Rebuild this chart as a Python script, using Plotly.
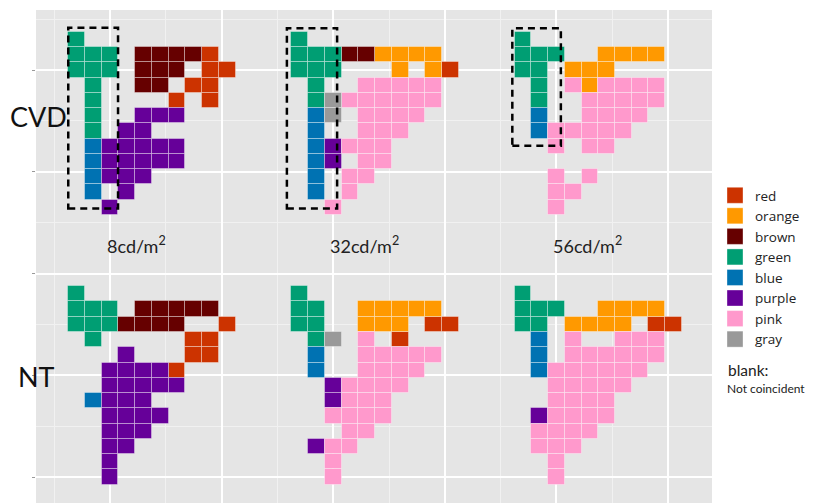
import plotly.graph_objects as go

# ---------------- data ----------------
COLOR_NAMES = ["red", "orange", "brown", "green", "blue", "purple", "pink", "gray"]
COLOR_CODES = ["R", "O", "W", "G", "B", "P", "K", "Y"]
COLOR_HEX = ["#CC3300", "#FF9900", "#660000", "#009E73", "#0072B2", "#660099", "#FF99CC", "#999999"]

GROUP_LABELS = ["CVD", "NT"]
LUMINANCE_LABELS = ["8cd/m<sup>2</sup>", "32cd/m<sup>2</sup>", "56cd/m<sup>2</sup>"]

# grid of coincident colour categories ('.' = blank / not coincident)
CVD_8 = [
    "G.........",
    "GGG.WWWWR.",
    "GGG.WWW.RR",
    ".G..WW.RR.",
    ".G....R.R.",
    ".G..PPP...",
    ".G.PP.....",
    ".BPPPPP...",
    ".BPPPPP...",
    ".BPPP.....",
    ".B.P......",
    "..P.......",
]
CVD_32 = [
    "G.........",
    "GGGWWOOOO.",
    "GGG...O.OR",
    ".G..KKKKK.",
    ".GYKKKKKK.",
    ".BY.KKKK..",
    ".B..KKK...",
    ".BPKKK....",
    ".BP.KK....",
    ".B.KK.....",
    ".B.K......",
    "..K.......",
]
CVD_56 = [
    "G.........",
    "GGG..OOOO.",
    "GG.OOO....",
    ".G.KOKKKK.",
    ".G..KKKKK.",
    ".B..KKKK..",
    ".BKKKKK...",
    "..K.KK....",
    "..........",
    "..K.K.....",
    "..KK......",
    "..K.......",
]
NT_8 = [
    "G.........",
    "GGG.WWWWW.",
    "GGGWWWW..R",
    ".G.....RR.",
    "...P...RR.",
    "..PPPPR...",
    "..PPPPP...",
    ".BPPP.....",
    "..PPPP....",
    "..PPP.....",
    "..PP......",
    "..P.......",
    "..P.......",
]
NT_32 = [
    "G.........",
    "GG..OOOOO.",
    "GG..OOO.RR",
    ".GY.K.R...",
    ".B..KKKKK.",
    ".B..KKKK..",
    "..PKKKK...",
    "..PKKK....",
    "..KKKK....",
    "...KK.....",
    ".PKK......",
    "..K.......",
    "..K.......",
]
NT_56 = [
    "G.........",
    "GGG..OOOO.",
    "GG.OOOO.RR",
    ".B.K..KKK.",
    ".B.KKKKKK.",
    ".BKKKKKK..",
    "..KKKKK...",
    "..KKKK....",
    ".PKKKK....",
    ".KKKK.....",
    ".KKK......",
    "..K.......",
    "..K.......",
]
PANELS = [[CVD_8, CVD_32, CVD_56], [NT_8, NT_32, NT_56]]

# ---------------- layout constants ----------------
CELL = 0.15
PANEL_DX = 2.0
PANEL_DY = -2.5
FONT = "Lato"
OFF = 8  # default page body margin

# collect cells per colour
cells = {code: {"x": [], "base": []} for code in COLOR_CODES}
for g, row_panels in enumerate(PANELS):
    for l, grid in enumerate(row_panels):
        ox, oy = l * PANEL_DX, g * PANEL_DY
        for r, line in enumerate(grid):
            for c, ch in enumerate(line):
                if ch == ".":
                    continue
                xc = ox + (c - 2) * CELL
                yc = oy - (r - 2) * CELL
                cells[ch]["x"].append(xc)
                cells[ch]["base"].append(yc - CELL / 2)

fig = go.Figure()
for name, code, col in zip(COLOR_NAMES, COLOR_CODES, COLOR_HEX):
    d = cells[code]
    fig.add_trace(go.Bar(
        x=d["x"], y=[CELL] * len(d["x"]), base=d["base"], width=CELL,
        marker=dict(color=col, line=dict(color="rgba(255,255,255,0.35)", width=1)),
        name=name, legendgroup=name, showlegend=False, hoverinfo="skip",
    ))
    fig.add_trace(go.Scatter(
        x=[None], y=[None], mode="markers", name=name, legendgroup=name,
        marker=dict(symbol="square", size=16, color=col,
                    line=dict(color="rgba(255,255,255,0.35)", width=1)),
        showlegend=True, hoverinfo="skip",
    ))

# dashed boxes (CVD row), relative to panel origin
BOXES = [(-0.374, 0.072, -1.36, 0.415), (-0.415, 0.035, -1.36, 0.41), (-0.395, 0.04, -0.745, 0.41)]
for l, (x0, x1, y0, y1) in enumerate(BOXES):
    ox = l * PANEL_DX
    fig.add_shape(type="rect", xref="x", yref="y", x0=ox + x0, x1=ox + x1, y0=y0, y1=y1,
                  line=dict(color="black", width=2.5, dash="7px,5px"), fillcolor="rgba(0,0,0,0)",
                  layer="above")

annotations = []
for l, lab in enumerate(LUMINANCE_LABELS):
    annotations.append(dict(x=l * PANEL_DX - 0.045, y=-1.72, xref="x", yref="y", text=lab,
                            showarrow=False, xanchor="left", yanchor="middle",
                            font=dict(family=FONT, size=18, color="#222222")))
# page-pixel plot area: x 36..712, y 10..503
W0, W1, H0, H1 = 36, 712, 10, 503
def px2paper(px, py):
    return (px - W0) / (W1 - W0), (H1 - py) / (H1 - H0)
for lab, (px, py) in zip(GROUP_LABELS, [(38, 116), (36, 377)]):
    xp, yp = px2paper(px, py)
    annotations.append(dict(x=xp, y=yp, xref="paper", yref="paper", text=lab, showarrow=False,
                            xanchor="center", yanchor="middle",
                            font=dict(family=FONT, size=27, color="#111111")))
xp, yp = px2paper(726, 370)
annotations.append(dict(x=xp, y=yp, xref="paper", yref="paper", text="blank:", showarrow=False,
                        xanchor="left", yanchor="middle", font=dict(family=FONT, size=15.5, color="#222222")))
xp, yp = px2paper(725, 388)
annotations.append(dict(x=xp, y=yp, xref="paper", yref="paper", text="Not coincident", showarrow=False,
                        xanchor="left", yanchor="middle", font=dict(family=FONT, size=12, color="#222222")))

lx, ly = px2paper(715, 180)
FIG_W, FIG_H = 813 - OFF, 503 - OFF
fig.update_layout(
    width=FIG_W, height=FIG_H,
    margin=dict(l=W0 - OFF, r=FIG_W - (W1 - OFF), t=H0 - OFF, b=0, autoexpand=False),
    paper_bgcolor="white", plot_bgcolor="#E5E5E5",
    barmode="overlay", bargap=0,
    showlegend=True,
    legend=dict(x=lx, y=ly, xref="paper", yref="paper", xanchor="left", yanchor="top",
                font=dict(family="Open Sans", size=13.5, color="#222222"), bgcolor="rgba(0,0,0,0)",
                itemsizing="trace", tracegroupgap=0),
    annotations=annotations,
    xaxis=dict(range=[(W0 - 110) / 111.6, (W1 - 110) / 111.6], showticklabels=False, zeroline=False,
               tick0=0, dtick=1, showgrid=True, gridcolor="white", gridwidth=2, ticks="",
               minor=dict(tick0=0, dtick=0.5, showgrid=True, gridcolor="#F1F1F1", gridwidth=1)),
    yaxis=dict(range=[(70 - H1) / 101.75, (70 - H0) / 101.75], showticklabels=False, zeroline=False,
               tick0=0, dtick=1, showgrid=True, gridcolor="white", gridwidth=2,
               ticks="outside", ticklen=3, tickcolor="#999999", tickwidth=1,
               minor=dict(tick0=0, dtick=0.5, showgrid=True, gridcolor="#F1F1F1", gridwidth=1)),
)

fig.write_html("out.html")
